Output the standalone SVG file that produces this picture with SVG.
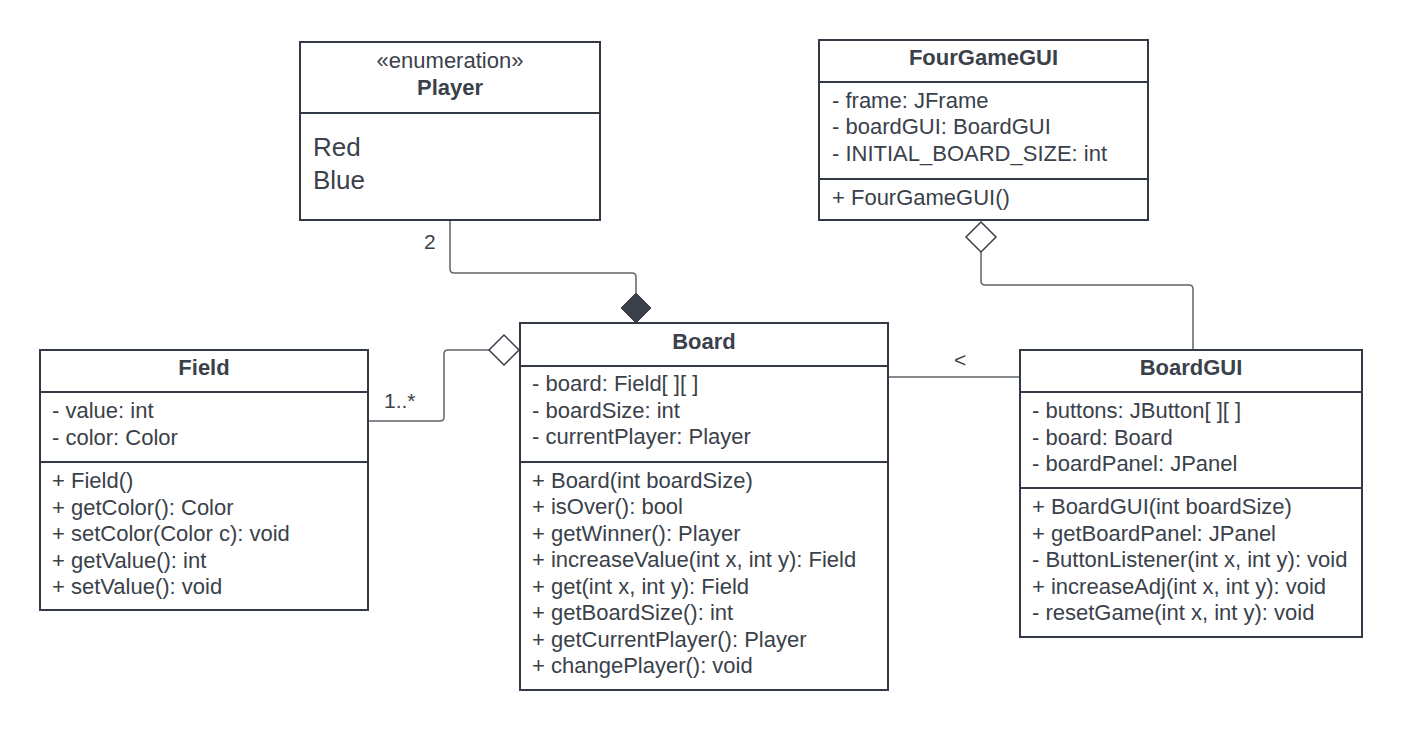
<svg xmlns="http://www.w3.org/2000/svg" width="1402" height="731" viewBox="0 0 1402 731">
<style>
text{font-family:"Liberation Sans",Arial,sans-serif;fill:#3a414a;font-size:22px}
.t{font-weight:bold;text-anchor:middle}
.box{fill:#fff;stroke:#333a45;stroke-width:2}
.div{stroke:#333a45;stroke-width:2}
.con{fill:none;stroke:#5e646b;stroke-width:1.5}
.lbl{font-size:21px}
</style>
<rect width="1402" height="731" fill="#fff"/>
<g id="connectors">
<path class="con" d="M450,220 V269 Q450,273 454,273 H632 Q636,273 636,277 V293"/>
<path d="M636,293 L651,308 L636,323 L621,308 Z" fill="#3a414a" stroke="#3a414a" stroke-width="1"/>
<path class="con" d="M368,421 H440 Q444,421 444,417 V354 Q444,350 448,350 H489"/>
<path d="M489,350 L504,335 L519,350 L504,365 Z" fill="#fff" stroke="#3a414a" stroke-width="1.5"/>
<path class="con" d="M981,252 V281 Q981,285 985,285 H1189 Q1193,285 1193,289 V350"/>
<path d="M981,222 L996,237 L981,252 L966,237 Z" fill="#fff" stroke="#3a414a" stroke-width="1.5"/>
<path class="con" d="M888,377 H1020"/>
<text class="lbl" x="424" y="249">2</text>
<text class="lbl" x="384" y="408">1..*</text>
<text class="lbl" x="954" y="367">&lt;</text>
</g>
<g id="player">
<rect class="box" x="300" y="42" width="300" height="178"/>
<line class="div" x1="300" y1="113" x2="600" y2="113"/>
<text x="450" y="68" text-anchor="middle">«enumeration»</text>
<text class="t" x="450" y="95">Player</text>
<text x="313" y="156" style="font-size:26px">Red</text>
<text x="313" y="189" style="font-size:26px">Blue</text>
</g>
<g id="fourgamegui">
<rect class="box" x="819" y="40" width="329" height="180"/>
<line class="div" x1="819" y1="82" x2="1148" y2="82"/>
<line class="div" x1="819" y1="179" x2="1148" y2="179"/>
<text class="t" x="983.5" y="65">FourGameGUI</text>
<text x="832" y="107.5">- frame: JFrame</text>
<text x="832" y="134">- boardGUI: BoardGUI</text>
<text x="832" y="160.5">- INITIAL_BOARD_SIZE: int</text>
<text x="832" y="204.5">+ FourGameGUI()</text>
</g>
<g id="field">
<rect class="box" x="40" y="350" width="328" height="260"/>
<line class="div" x1="40" y1="392" x2="368" y2="392"/>
<line class="div" x1="40" y1="462" x2="368" y2="462"/>
<text class="t" x="204" y="375">Field</text>
<text x="52" y="418">- value: int</text>
<text x="52" y="444.5">- color: Color</text>
<text x="52" y="488">+ Field()</text>
<text x="52" y="514.5">+ getColor(): Color</text>
<text x="52" y="541">+ setColor(Color c): void</text>
<text x="52" y="567.5">+ getValue(): int</text>
<text x="52" y="594">+ setValue(): void</text>
</g>
<g id="board">
<rect class="box" x="520" y="323" width="368" height="367"/>
<line class="div" x1="520" y1="366" x2="888" y2="366"/>
<line class="div" x1="520" y1="462" x2="888" y2="462"/>
<text class="t" x="704" y="349">Board</text>
<text x="532" y="391">- board: Field[ ][ ]</text>
<text x="532" y="417.5">- boardSize: int</text>
<text x="532" y="444">- currentPlayer: Player</text>
<text x="532" y="487.7">+ Board(int boardSize)</text>
<text x="532" y="514.2">+ isOver(): bool</text>
<text x="532" y="540.7">+ getWinner(): Player</text>
<text x="532" y="567.2">+ increaseValue(int x, int y): Field</text>
<text x="532" y="593.7">+ get(int x, int y): Field</text>
<text x="532" y="620.2">+ getBoardSize(): int</text>
<text x="532" y="646.7">+ getCurrentPlayer(): Player</text>
<text x="532" y="673.2">+ changePlayer(): void</text>
</g>
<g id="boardgui">
<rect class="box" x="1020" y="350" width="342" height="287"/>
<line class="div" x1="1020" y1="392" x2="1362" y2="392"/>
<line class="div" x1="1020" y1="488" x2="1362" y2="488"/>
<text class="t" x="1191" y="375">BoardGUI</text>
<text x="1032" y="418">- buttons: JButton[ ][ ]</text>
<text x="1032" y="444.5">- board: Board</text>
<text x="1032" y="471">- boardPanel: JPanel</text>
<text x="1032" y="514">+ BoardGUI(int boardSize)</text>
<text x="1032" y="540.5">+ getBoardPanel: JPanel</text>
<text x="1032" y="567">- ButtonListener(int x, int y): void</text>
<text x="1032" y="593.5">+ increaseAdj(int x, int y): void</text>
<text x="1032" y="620">- resetGame(int x, int y): void</text>
</g>
</svg>
